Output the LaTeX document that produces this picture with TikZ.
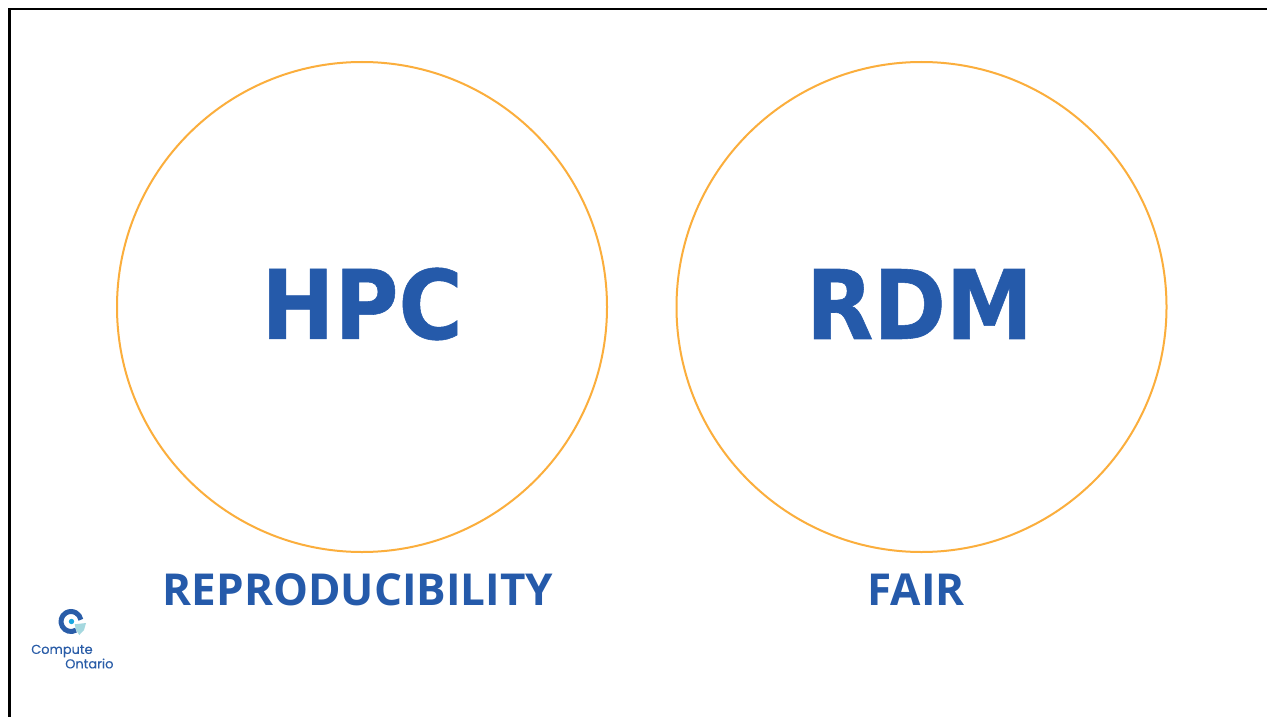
\documentclass[tikz,border=0pt]{standalone}
\usepackage{fontspec}
\setmainfont{Open Sans}
\newfontfamily\hfont[BoldFeatures={FakeBold=0.6}]{DejaVu Sans}
\newfontfamily\lfont[FakeBold=0.25]{Poppins}
\definecolor{tblue}{HTML}{255AAA}
\definecolor{ring}{HTML}{FBAE3C}
\definecolor{logoblue}{HTML}{2A5DA8}
\definecolor{logocyan}{HTML}{1AA7E0}
\definecolor{logoteal}{HTML}{A5D8DF}
\tikzset{
  px/.style={x=0.75pt,y=-0.75pt},
  circ/.style={circle,draw=ring,line width=1.5pt,minimum size=367.5pt,inner sep=0pt},
  big/.style={text=tblue,font=\hfont\bfseries\fontsize{72}{72}\selectfont,inner sep=0pt,xscale=0.91},
  sub/.style={text=tblue,font=\bfseries\fontsize{33}{33}\selectfont,inner sep=0pt},
  logotext/.style={text=logoblue,font=\lfont\fontsize{9.7}{11}\selectfont,inner sep=0pt}
}
\begin{document}
\begin{tikzpicture}[px]
\useasboundingbox (0,0) rectangle (1267,717);
\fill[white] (0,0) rectangle (1267,717);
\draw[black,line width=2.2pt] (9.5,717) -- (9.5,9) -- (1267,9);
\node[circ] (hpc) at (362,307) {};
\node[circ] (rdm) at (921.5,307) {};
\node[big] (hpct) at (362,304) {HPC};
\node[big] (rdmt) at (919.5,304) {RDM};
\node[sub] (rep) at (358,590) {REPRODUCIBILITY};
\node[sub] (fair) at (916,590) {FAIR};
% logo
\draw[logoblue,line width=3.75pt] (71,621.5) ++(60:10) arc (60:350:10);
\fill[logocyan] (71.5,621.5) circle (2.7);
\fill[logoteal] (74.7,624.3) -- (86,623) -- (84,630) -- (79.3,635) -- (76,630) -- cycle;
\node[logotext,anchor=west] (c) at (31,651) {Compute};
\node[logotext,anchor=west] (o) at (65,663.5) {Ontario};
\end{tikzpicture}
\end{document}
